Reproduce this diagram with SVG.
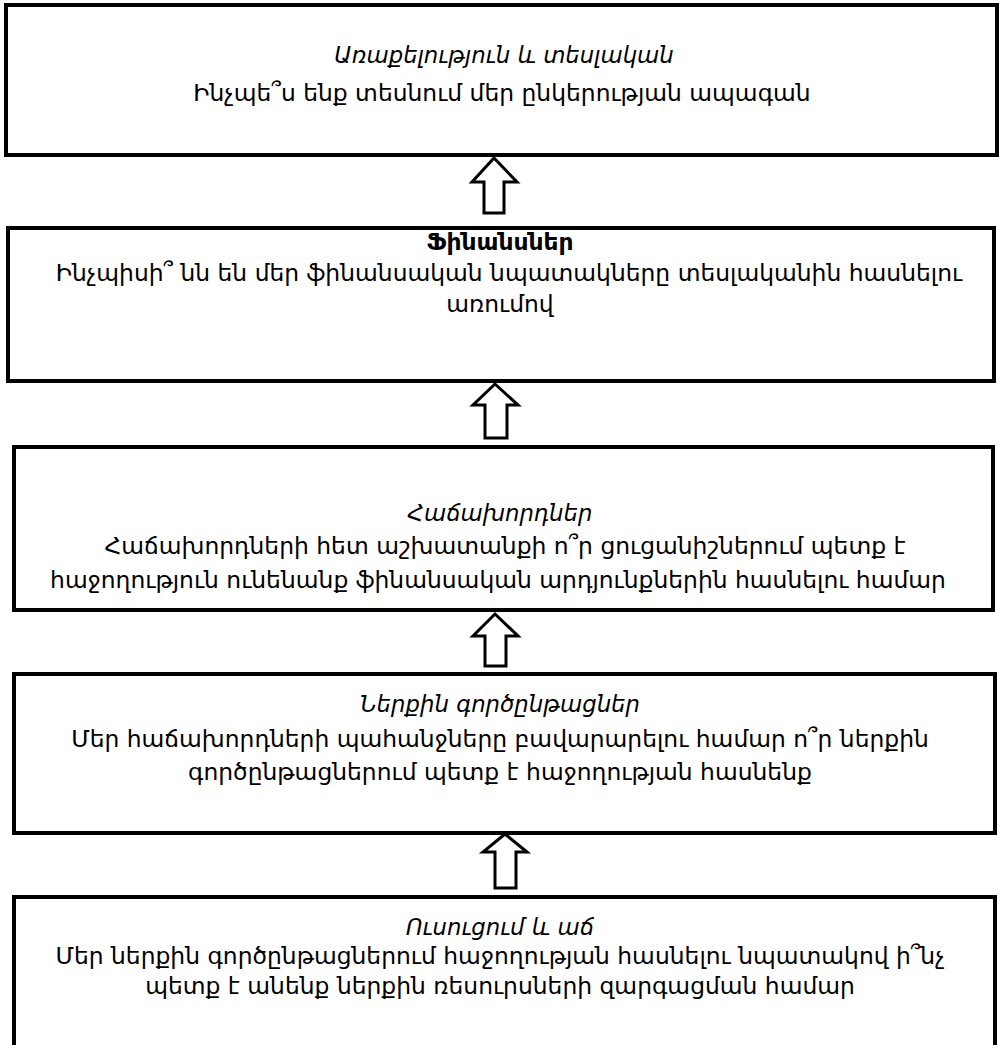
<svg xmlns="http://www.w3.org/2000/svg" width="1001" height="1045" viewBox="0 0 1001 1045">
<defs>
<style>
.box{fill:#fff;stroke:#000;stroke-width:4}
.arr{fill:#fff;stroke:#000;stroke-width:3;stroke-linejoin:miter}
text{font-family:"DejaVu Sans","Noto Sans",sans-serif;font-size:23.4px;fill:#000;text-anchor:middle}
.t{font-style:italic;font-size:22.8px}
.b{font-weight:bold}
</style>
</defs>
<rect width="1001" height="1045" fill="#fff"/>
<g id="connectors">
<polygon class="arr" points="494,158 517,182 504,182 504,213 484,213 484,182 472,182"/>
<polygon class="arr" points="495,384 518,405 507,405 507,438 485,438 485,405 473,405"/>
<polygon class="arr" points="495,614 518,636 506,636 506,666 485,666 485,636 473,636"/>
<polygon class="arr" points="505,834 527,852 516,852 516,888 495,888 495,852 483,852"/>
</g>
<g id="node1">
<rect class="box" x="6" y="5" width="991" height="150"/>
<text class="t" x="504" y="63">Առաքելություն և տեսլական</text>
<text x="502" y="101">Ինչպե՞ս ենք տեսնում մեր ընկերության ապագան</text>
</g>
<g id="node2">
<rect class="box" x="8" y="228" width="986" height="153"/>
<text class="b" x="500" y="250">Ֆինանսներ</text>
<text x="509" y="281">Ինչպիսի՞ նն են մեր ֆինանսական նպատակները տեսլականին հասնելու</text>
<text x="500" y="312">առումով</text>
</g>
<g id="node3">
<rect class="box" x="14" y="447" width="979" height="163"/>
<text class="t" x="500" y="521">Հաճախորդներ</text>
<text x="505" y="554">Հաճախորդների հետ աշխատանքի ո՞ր ցուցանիշներում պետք է</text>
<text x="498" y="588">հաջողություն ունենանք ֆինանսական արդյունքներին հասնելու համար</text>
</g>
<g id="node4">
<rect class="box" x="14" y="674" width="981" height="159"/>
<text class="t" x="500" y="712">Ներքին գործընթացներ</text>
<text x="500" y="747">Մեր հաճախորդների պահանջները բավարարելու համար ո՞ր ներքին</text>
<text x="500" y="780">գործընթացներում պետք է հաջողության հասնենք</text>
</g>
<g id="node5">
<rect class="box" x="14" y="897" width="981" height="170"/>
<text class="t" x="500" y="935">Ուսուցում և աճ</text>
<text x="500" y="964">Մեր ներքին գործընթացներում հաջողության հասնելու նպատակով ի՞նչ</text>
<text x="500" y="994">պետք է անենք ներքին ռեսուրսների զարգացման համար</text>
</g>
</svg>
